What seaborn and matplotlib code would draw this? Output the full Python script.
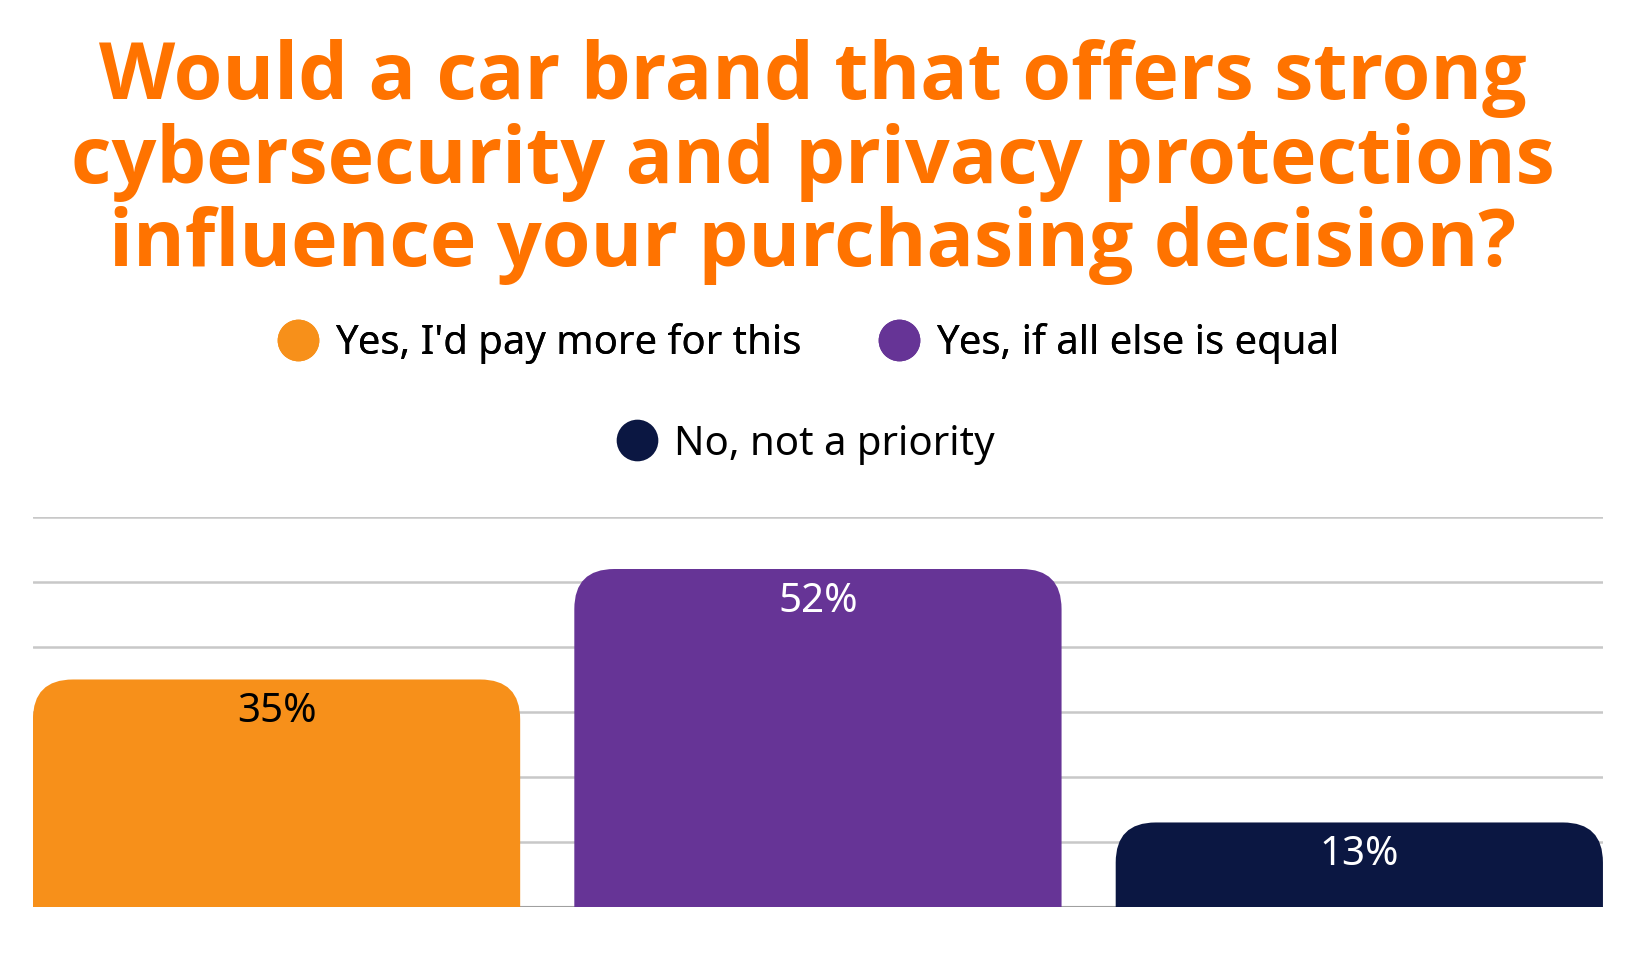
import matplotlib
matplotlib.use("Agg")
import matplotlib.pyplot as plt
from matplotlib.patches import FancyBboxPatch
from matplotlib.lines import Line2D
import seaborn as sns

# ---- data ----
categories = ["Yes, I'd pay more for this", "Yes, if all else is equal", "No, not a priority"]
values = [35, 52, 13]
labels = ["35%", "52%", "13%"]
bar_colors = ["#F7901A", "#663496", "#0B1742"]
label_colors = ["#000000", "#FFFFFF", "#FFFFFF"]
title = ("Would a car brand that offers strong\n"
         "cybersecurity and privacy protections\n"
         "influence your purchasing decision?")
grid_ticks = [10, 20, 30, 40, 50, 60]

sns.set_style("white")
plt.rcParams["font.family"] = ["Noto Sans", "DejaVu Sans"]

W, H, DPI = 16.38, 9.56, 100
fig = plt.figure(figsize=(W, H), dpi=DPI)
ax = fig.add_axes([0.0201, 0.0513, 0.9585, 0.4079])

sns.barplot(x=categories, y=values, hue=categories, palette=bar_colors,
            legend=False, width=0.9, ax=ax, saturation=1)

ax.set_xlim(-0.45, 2.45)
ax.set_ylim(0, 60)
for t in grid_ticks:
    ax.axhline(t, color="#C8C8C8", lw=1.8, zorder=0)
ax.axhline(0, color="#A0A0A0", lw=1.5, zorder=0)
for s in ax.spines.values():
    s.set_visible(False)
ax.set_xticks([])
ax.set_yticks([])
ax.set_xlabel("")
ax.set_ylabel("")

# rounded top corners
ax_w_px = 0.9585 * W * DPI
ax_h_px = 0.4079 * H * DPI
px_x = ax_w_px / (2.45 + 0.45)
px_y = ax_h_px / 60.0
r_px = 40
r = r_px / px_x
aspect = (r_px / px_y) / r
bars = list(ax.patches)
for p, col in zip(bars, bar_colors):
    x, w, h = p.get_x(), p.get_width(), p.get_height()
    p.set_visible(False)
    box = FancyBboxPatch((x, -20), w, h + 20,
                         boxstyle=f"round,pad=0,rounding_size={r}",
                         mutation_aspect=aspect, fc=col, ec="none",
                         zorder=2, clip_on=True)
    ax.add_patch(box)

for i, (v, lab, lc) in enumerate(zip(values, labels, label_colors)):
    ax.annotate(lab, xy=(i, v), xytext=(0, -23.5), textcoords="offset points",
                ha="center", va="center", fontsize=29, color=lc, zorder=3)

# title
fig.text(0.496, 0.8305, title, ha="center", va="center", fontsize=56.8,
         fontweight="bold", color="#FF7300", family=["Open Sans", "DejaVu Sans"],
         linespacing=1.07)

# legend
handles = [Line2D([], [], marker="o", ls="none", markersize=30,
                  markerfacecolor=c, markeredgecolor="none") for c in bar_colors]
leg1 = fig.legend(handles[:2], categories[:2], loc="center", ncol=2,
                  bbox_to_anchor=(0.4945, 0.641), frameon=False, fontsize=28.9,
                  labelcolor="black",
                  handlelength=0.85, handletextpad=0.5, columnspacing=2.0)
leg2 = fig.legend(handles[2:], categories[2:], loc="center", ncol=1,
                  bbox_to_anchor=(0.493, 0.535), frameon=False, fontsize=28.9,
                  labelcolor="black",
                  handlelength=0.85, handletextpad=0.5)
fig.add_artist(leg1)

fig.savefig("out.png", dpi=DPI, facecolor="white")
